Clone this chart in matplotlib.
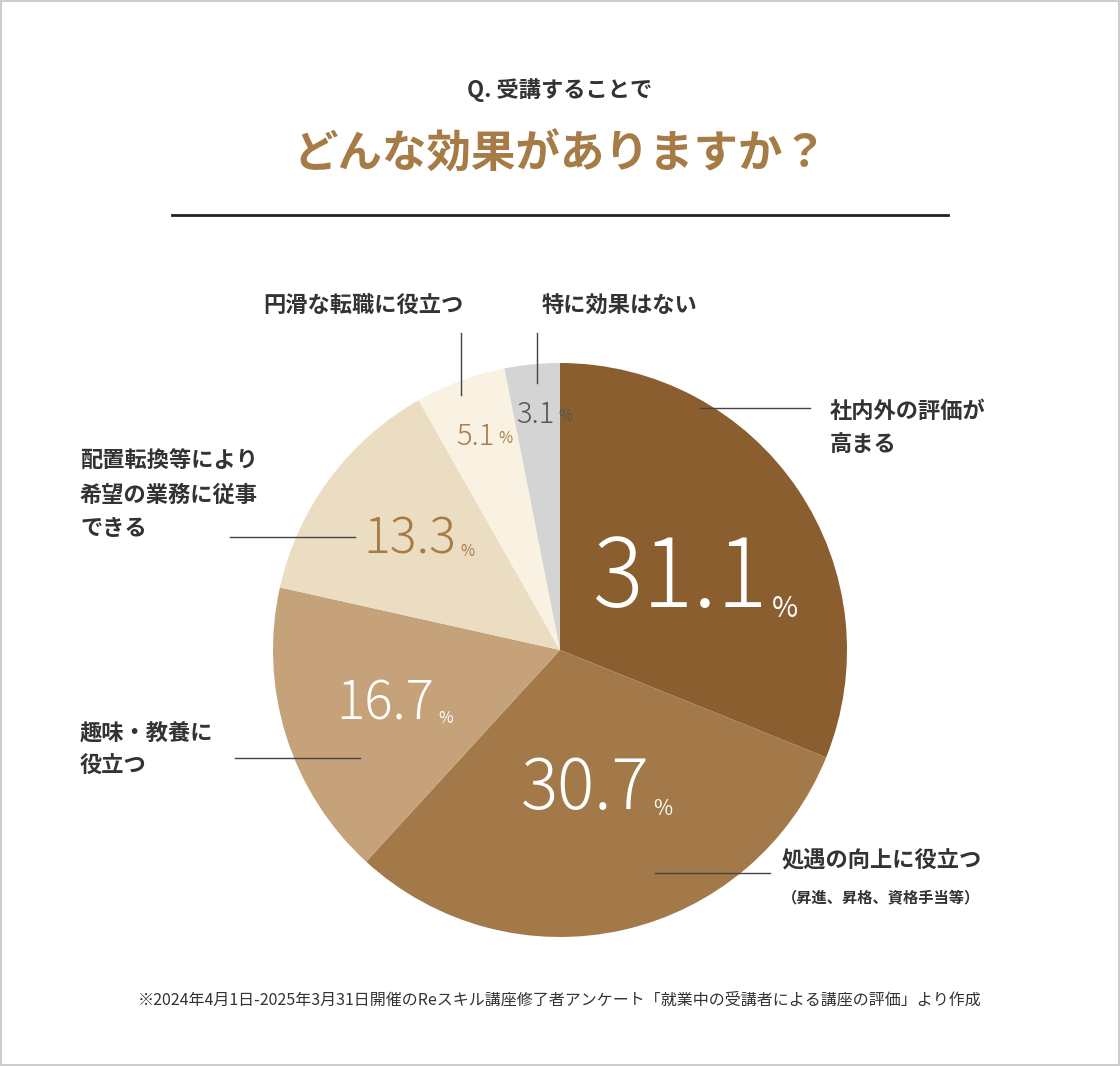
import matplotlib
matplotlib.use("Agg")
import matplotlib.pyplot as plt
from matplotlib.patches import Rectangle

FONT = "Noto Sans CJK JP"
plt.rcParams["font.family"] = FONT

labels = ["社内外の評価が\n高まる", "処遇の向上に役立つ", "趣味・教養に\n役立つ",
          "配置転換等により\n希望の業務に従事\nできる", "円滑な転職に役立つ", "特に効果はない"]
values = [31.1, 30.7, 16.7, 13.3, 5.1, 3.1]
colors = ["#8A5E2F", "#A37949", "#C6A27B", "#EADDC1", "#F9F2E3", "#D4D4D4"]
pct_colors = ["white", "white", "white", "#A77B45", "#A77B45", "#555555"]

W, H = 1120, 1066
fig = plt.figure(figsize=(W/100, H/100), dpi=100)
ax = fig.add_axes([0, 0, 1, 1])
ax.set_xlim(0, W); ax.set_ylim(0, H); ax.set_aspect("equal"); ax.axis("off")
Y = lambda y: H - y
ax.add_patch(Rectangle((1, 1), W-2, H-2, fill=False, ec="#CCCCCC", lw=1.5))

ax.text(560, Y(90), "Q. 受講することで", ha="center", va="center", fontsize=16, fontweight="bold", color="#333333")
ax.text(560, Y(155), "どんな効果がありますか？", ha="center", va="center", fontsize=32, fontweight="bold", color="#A77B45")
ax.plot([172, 948], [Y(215), Y(215)], color="#222222", lw=2)

ax.pie(values, colors=colors, startangle=90, counterclock=False, center=(560, Y(650)), radius=287,
       wedgeprops=dict(linewidth=0), frame=True)
ax.set_xlim(0, W); ax.set_ylim(0, H); ax.axis("off")

# percentage labels: (x, y, size)
pct_pos = [(680, 580, 68), (585, 790, 50), (385, 705, 38), (410, 540, 36), (475, 437, 21), (535, 415, 21)]
for v, (x, y, s), c in zip(values, pct_pos, pct_colors):
    t = ax.text(x, Y(y), f"{v}", ha="center", va="center", fontsize=s, color=c, fontweight="light")
    ax.annotate("%", xy=(1, 0), xycoords=t, xytext=(3, 4), textcoords="offset points",
                fontsize=max(11, s*0.3), color=c, va="bottom", ha="left")

lc = "#444444"
ax.plot([700, 810], [Y(408)]*2, color=lc, lw=1)
ax.text(830, Y(428), labels[0], ha="left", va="center", fontsize=16, fontweight="bold", color="#333333", linespacing=1.6)
ax.plot([655, 770], [Y(873)]*2, color=lc, lw=1)
ax.text(782, Y(860), labels[1], ha="left", va="center", fontsize=16, fontweight="bold", color="#333333")
ax.text(782, Y(897), "（昇進、昇格、資格手当等）", ha="left", va="center", fontsize=11, fontweight="bold", color="#333333")
ax.plot([235, 360], [Y(758)]*2, color=lc, lw=1)
ax.text(80, Y(750), labels[2], ha="left", va="center", fontsize=16, fontweight="bold", color="#333333", linespacing=1.6)
ax.plot([230, 355], [Y(537)]*2, color=lc, lw=1)
ax.text(80, Y(495), labels[3], ha="left", va="center", fontsize=16, fontweight="bold", color="#333333", linespacing=1.6)
ax.plot([461, 461], [Y(333), Y(395)], color=lc, lw=1)
ax.text(363, Y(306), labels[4], ha="center", va="center", fontsize=16, fontweight="bold", color="#333333")
ax.plot([537, 537], [Y(333), Y(383)], color=lc, lw=1)
ax.text(620, Y(306), labels[5], ha="center", va="center", fontsize=16, fontweight="bold", color="#333333")

ax.text(560, Y(1000), "※2024年4月1日-2025年3月31日開催のReスキル講座修了者アンケート「就業中の受講者による講座の評価」より作成",
        ha="center", va="center", fontsize=11.5, color="#333333")

fig.savefig("out.png", dpi=100, facecolor="white")
